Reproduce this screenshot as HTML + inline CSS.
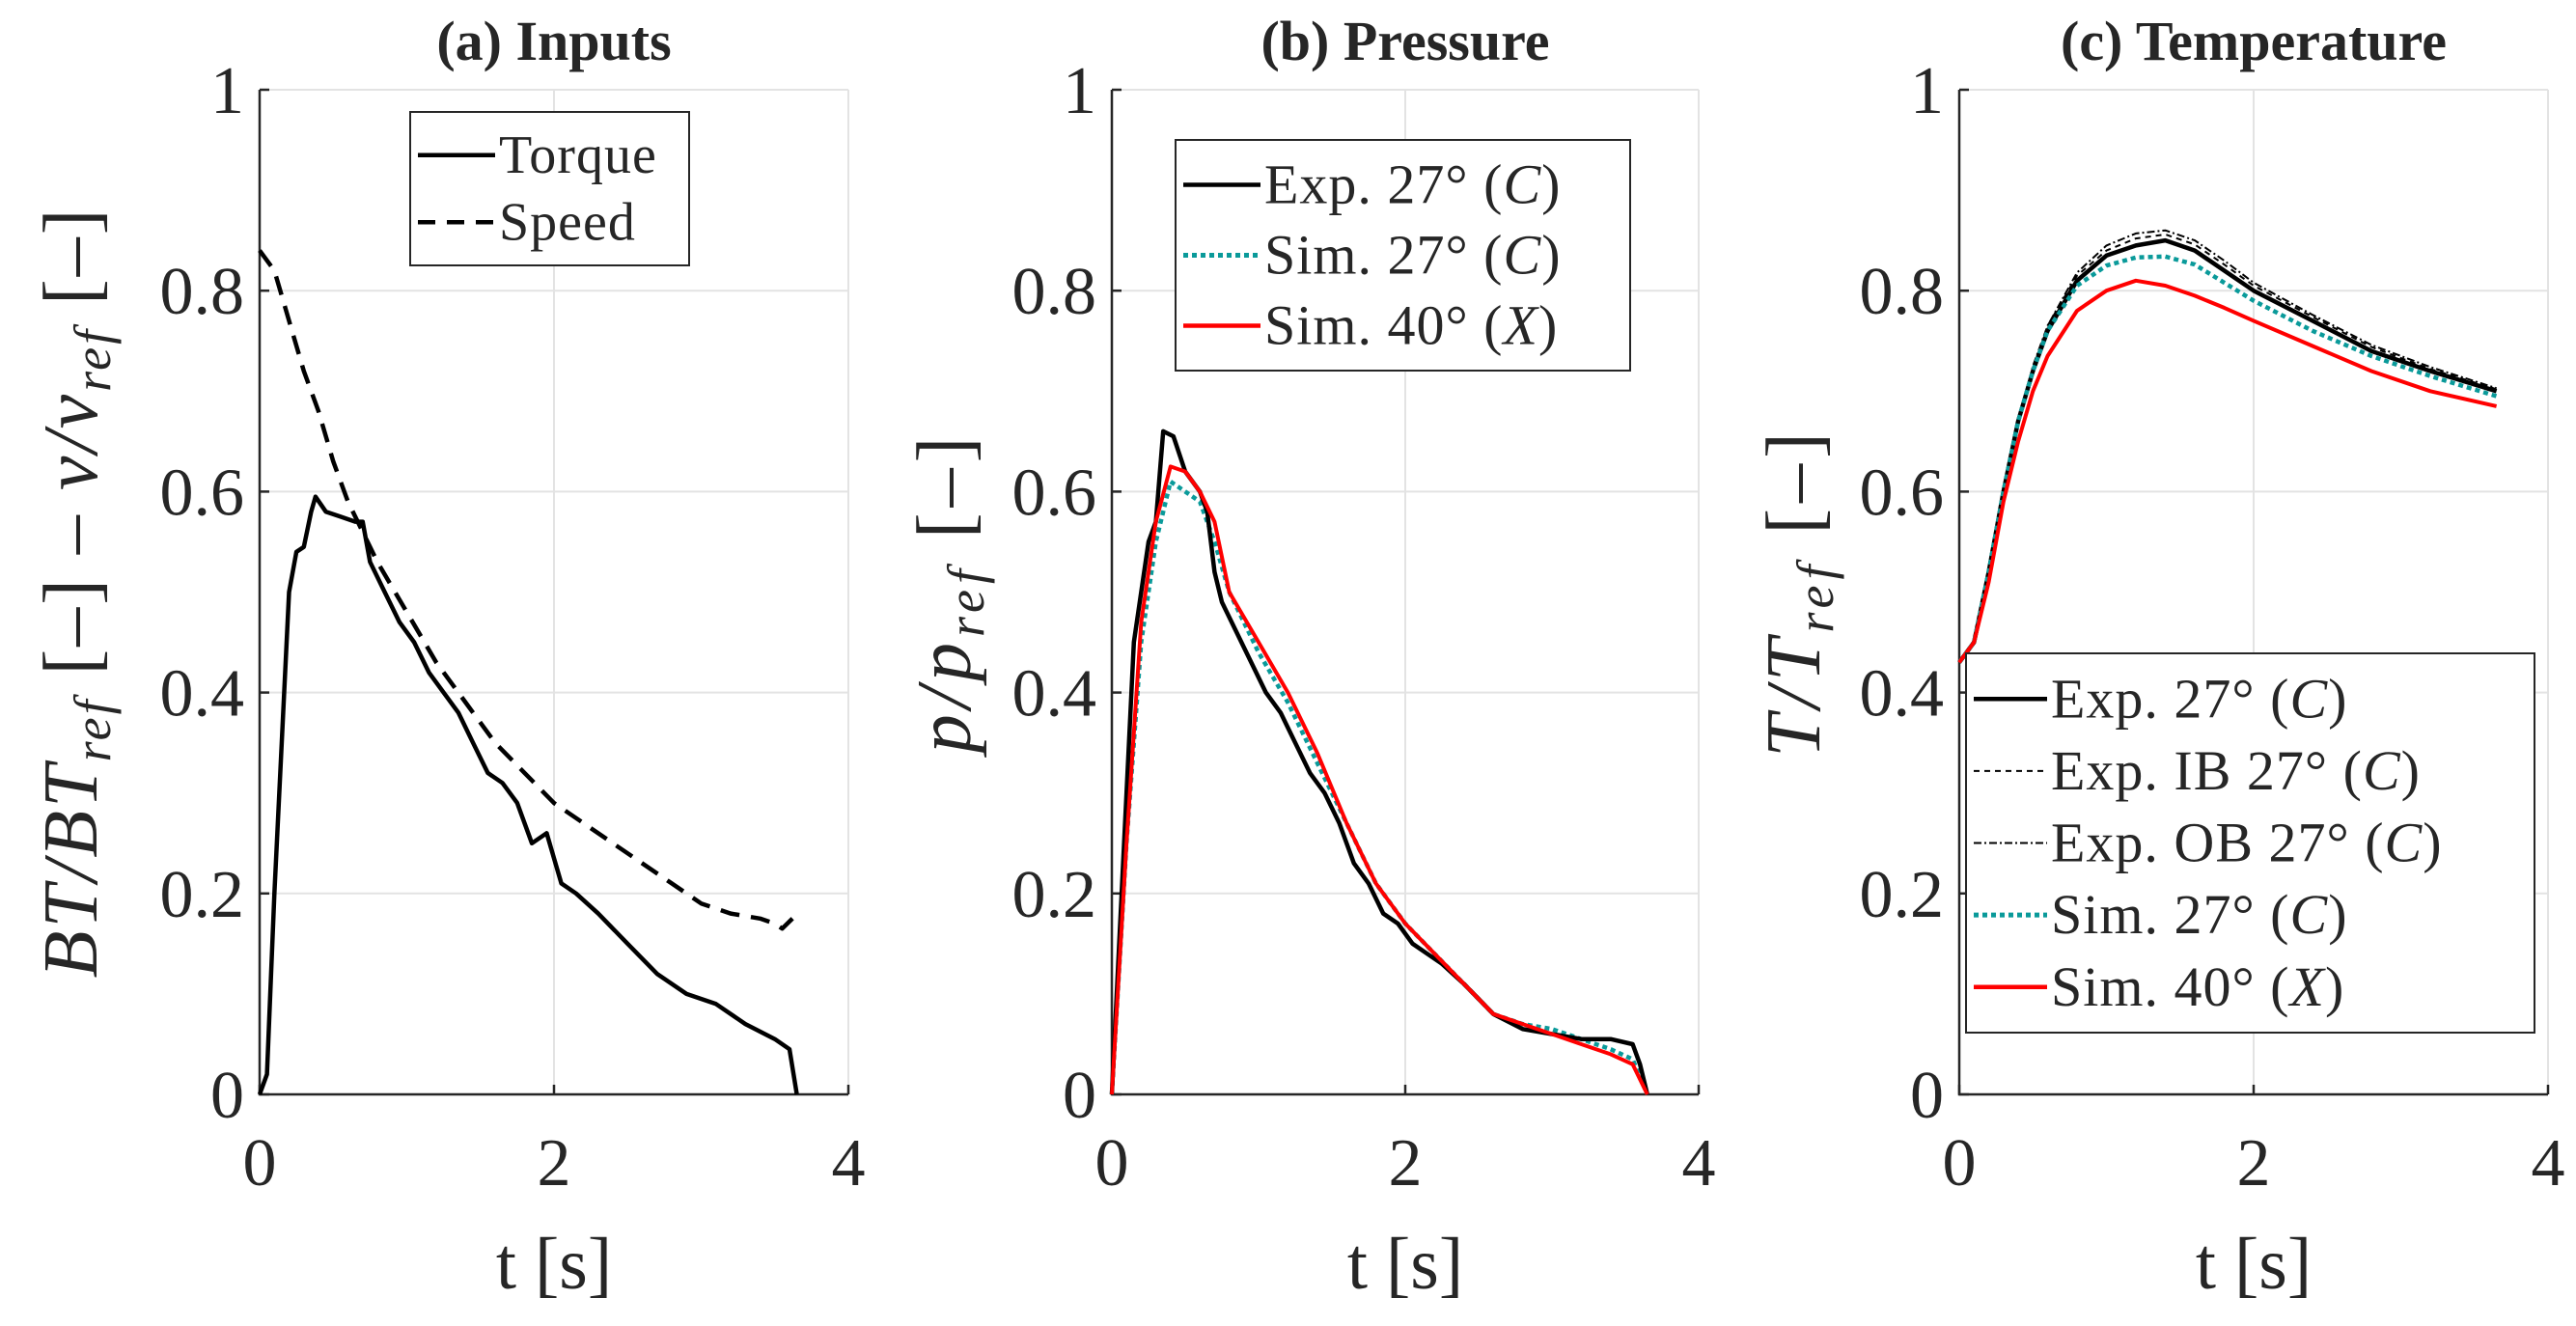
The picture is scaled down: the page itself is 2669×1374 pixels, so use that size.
<!DOCTYPE html>
<html><head><meta charset="utf-8"><style>
html,body{margin:0;padding:0;background:#fff;}
svg{display:block;}
text{font-family:"Liberation Serif",serif;fill:#262626;}
</style></head><body>
<svg id="chart" width="2669" height="1374"></svg>
<script>
const tA=[0,0.05,0.1,0.15,0.2,0.25,0.3,0.35,0.38,0.45,0.55,0.65,0.7,0.75,0.85,0.95,1.05,1.15,1.25,1.35,1.45,1.55,1.65,1.75,1.85,1.95,2.05,2.15,2.3,2.5,2.7,2.9,3.1,3.3,3.5,3.6,3.65];
const torque=[0,0.02,0.2,0.35,0.5,0.54,0.545,0.58,0.595,0.58,0.575,0.57,0.57,0.53,0.5,0.47,0.45,0.42,0.4,0.38,0.35,0.32,0.31,0.29,0.25,0.26,0.21,0.2,0.18,0.15,0.12,0.1,0.09,0.07,0.055,0.045,0];
const tS=[0,0.1,0.2,0.3,0.4,0.5,0.6,0.8,1.0,1.2,1.4,1.6,1.8,2.0,2.2,2.4,2.6,2.8,3.0,3.2,3.4,3.5,3.55,3.62];
const speed=[0.84,0.82,0.77,0.72,0.68,0.63,0.59,0.53,0.48,0.43,0.39,0.35,0.32,0.29,0.27,0.25,0.23,0.21,0.19,0.18,0.175,0.17,0.165,0.175];
const tPE=[0,0.1,0.15,0.2,0.25,0.3,0.35,0.42,0.5,0.6,0.65,0.7,0.75,0.85,0.95,1.05,1.15,1.25,1.35,1.45,1.55,1.65,1.75,1.85,1.95,2.05,2.15,2.25,2.4,2.6,2.8,3.0,3.2,3.4,3.55,3.6,3.65];
const pExp=[0,0.3,0.45,0.5,0.55,0.57,0.66,0.655,0.62,0.6,0.58,0.52,0.49,0.46,0.43,0.4,0.38,0.35,0.32,0.3,0.27,0.23,0.21,0.18,0.17,0.15,0.14,0.13,0.11,0.08,0.065,0.06,0.055,0.055,0.05,0.03,0];
const tPS=[0,0.1,0.2,0.3,0.4,0.5,0.6,0.7,0.8,1.0,1.2,1.4,1.6,1.8,2.0,2.2,2.4,2.6,2.8,3.0,3.2,3.4,3.55,3.65];
const pSim27=[0,0.25,0.45,0.55,0.61,0.6,0.59,0.55,0.5,0.44,0.39,0.33,0.27,0.21,0.17,0.14,0.11,0.08,0.07,0.065,0.055,0.045,0.035,0];
const pSim40=[0,0.25,0.47,0.57,0.625,0.62,0.6,0.57,0.5,0.45,0.4,0.34,0.27,0.21,0.17,0.14,0.11,0.08,0.07,0.06,0.05,0.04,0.03,0];
const tT=[0,0.1,0.2,0.3,0.4,0.5,0.6,0.8,1.0,1.2,1.4,1.6,1.8,2.0,2.4,2.8,3.2,3.65];
const TExp=[0.43,0.45,0.52,0.6,0.67,0.72,0.76,0.81,0.835,0.845,0.85,0.84,0.82,0.8,0.77,0.74,0.72,0.7];
const TIB=[0.43,0.45,0.52,0.6,0.67,0.72,0.765,0.815,0.84,0.852,0.856,0.846,0.826,0.805,0.774,0.744,0.722,0.702];
const TOB=[0.43,0.45,0.52,0.6,0.67,0.725,0.765,0.818,0.845,0.857,0.86,0.85,0.83,0.808,0.776,0.746,0.724,0.703];
const TSim27=[0.43,0.45,0.52,0.6,0.67,0.72,0.76,0.805,0.825,0.833,0.834,0.826,0.808,0.79,0.76,0.735,0.715,0.695];
const TSim40=[0.43,0.45,0.51,0.59,0.65,0.7,0.735,0.78,0.8,0.81,0.805,0.795,0.783,0.77,0.745,0.72,0.7,0.685];
const xTicks=[0,2,4];
const yTicks=[0,0.2,0.4,0.6,0.8,1];
const yTickLabels=["0","0.2","0.4","0.6","0.8","1"];

const NS="http://www.w3.org/2000/svg";
const svg=document.getElementById('chart');
function el(tag,attrs,parent,txt){const e=document.createElementNS(NS,tag);for(const k in attrs)e.setAttribute(k,attrs[k]);if(txt!==undefined)e.textContent=txt;(parent||svg).appendChild(e);return e;}
const TOP=93,BOT=1134;
function makePanel(x0,x1,name,title){
  const g=el('g',{});
  
  
  const sx=v=>x0+(v/4)*(x1-x0), sy=v=>BOT-v*(BOT-TOP);
  xTicks.forEach(v=>{const l=el('line',{x1:sx(v),x2:sx(v),y1:TOP,y2:BOT,stroke:'#e3e3e3','stroke-width':2},g);});
  yTicks.forEach(v=>{const l=el('line',{x1:x0,x2:x1,y1:sy(v),y2:sy(v),stroke:'#e3e3e3','stroke-width':2},g);});
  const ax=el('path',{d:`M${x0},${TOP}V${BOT}H${x1}`,fill:'none',stroke:'#262626','stroke-width':2.5},g);
  
  xTicks.forEach(v=>{el('line',{x1:sx(v),x2:sx(v),y1:BOT,y2:BOT-10,stroke:'#262626','stroke-width':2.5},g);
    const t=el('text',{x:sx(v),y:1228,'text-anchor':'middle','font-size':70},g,String(v));});
  yTicks.forEach((v,i)=>{el('line',{x1:x0,x2:x0+10,y1:sy(v),y2:sy(v),stroke:'#262626','stroke-width':2.5},g);
    const t=el('text',{x:x0-16,y:sy(v)+24,'text-anchor':'end','font-size':70},g,yTickLabels[i]);});
  const xt=el('text',{x:(x0+x1)/2,y:1335,'text-anchor':'middle','font-size':76},g,'t [s]');
  
  const tt=el('text',{x:(x0+x1)/2,y:62,'text-anchor':'middle','font-size':58,'font-weight':'bold','fill':'#000'},g,title);
  
  return {g,sx,sy};
}
function line(p,xs,ys,attrs,name){
  const d=xs.map((x,i)=>(i?'L':'M')+p.sx(x).toFixed(1)+','+p.sy(ys[i]).toFixed(1)).join('');
  const a=Object.assign({d,fill:'none','stroke-linejoin':'round'},attrs);
  const e=el('path',a,p.g);
  
  
}
function ylabel(x,html,name,ls){
  const t=el('text',{transform:`translate(${x},${(TOP+BOT)/2}) rotate(-90)`,'text-anchor':'middle','font-size':80,'font-style':'italic','letter-spacing':ls||0},svg);
  t.innerHTML=html;
  
}
function legend(x,y,w,h,items,fs,lw,name){
  const g=el('g',{});
  
  el('rect',{x,y,width:w,height:h,fill:'#fff',stroke:'#262626','stroke-width':2},g);
  const step=(h-20)/items.length;
  items.forEach((it,i)=>{
    const cy=y+10+step*(i+0.5);
    const e=el('g',{},g);
    
    el('line',Object.assign({x1:x+8,x2:x+8+lw,y1:cy,y2:cy},it.s),e);
    const t=el('text',{x:x+12+lw,y:cy+fs*0.33,'font-size':fs,fill:'#000','letter-spacing':1},e);t.innerHTML=it.t;
  });
}
// panel a
const A=makePanel(269,879,'panel-inputs','(a) Inputs');
line(A,tS,speed,{stroke:'#000','stroke-width':4.5,'stroke-dasharray':'20,12'},'speed-line');
line(A,tA,torque,{stroke:'#000','stroke-width':4.5},'torque-line');
ylabel(100,'BT/BT<tspan font-size="54" dy="14">ref</tspan><tspan dy="-14" font-style="normal"> [–] – </tspan>v/v<tspan font-size="54" dy="14">ref</tspan><tspan dy="-14" font-style="normal"> [–]</tspan>','y-axis-title-inputs',3);
legend(425,116,289,159,[{t:'Torque',s:{stroke:'#000','stroke-width':4.5}},{t:'Speed',s:{stroke:'#000','stroke-width':4.5,'stroke-dasharray':'18,12'}}],56,80,'legend-inputs');
// panel b
const B=makePanel(1152,1760,'panel-pressure','(b) Pressure');
line(B,tPS,pSim27,{stroke:'#0a9a9a','stroke-width':4.5,'stroke-dasharray':'5,4'},'sim27-pressure-line');
line(B,tPE,pExp,{stroke:'#000','stroke-width':4.5},'exp27-pressure-line');
line(B,tPS,pSim40,{stroke:'#ff0000','stroke-width':4},'sim40-pressure-line');
ylabel(1005,'p/p<tspan font-size="54" dy="14">ref</tspan><tspan dy="-14" font-style="normal"> [–]</tspan>','y-axis-title-pressure',6);
const it3=[{t:'Exp.  27° (<tspan font-style="italic">C</tspan>)',s:{stroke:'#000','stroke-width':4.5}},{t:'Sim.  27° (<tspan font-style="italic">C</tspan>)',s:{stroke:'#0a9a9a','stroke-width':5,'stroke-dasharray':'5,4'}},{t:'Sim.  40° (<tspan font-style="italic">X</tspan>)',s:{stroke:'#ff0000','stroke-width':4.5}}];
legend(1218,145,471,239,it3,58,80,'legend-pressure');
// panel c
const C=makePanel(2030,2640,'panel-temperature','(c) Temperature');
line(C,tT,TIB,{stroke:'#000','stroke-width':2,'stroke-dasharray':'6,5'},'expIB-temperature-line');
line(C,tT,TOB,{stroke:'#000','stroke-width':2,'stroke-dasharray':'8,3,2,3'},'expOB-temperature-line');
line(C,tT,TExp,{stroke:'#000','stroke-width':4.5},'exp27-temperature-line');
line(C,tT,TSim27,{stroke:'#0a9a9a','stroke-width':4.5,'stroke-dasharray':'5,4'},'sim27-temperature-line');
line(C,tT,TSim40,{stroke:'#ff0000','stroke-width':4},'sim40-temperature-line');
ylabel(1885,'T/T<tspan font-size="54" dy="14">ref</tspan><tspan dy="-14" font-style="normal"> [–]</tspan>','y-axis-title-temperature',6);
legend(2037,677,589,393,[it3[0],{t:'Exp.  IB 27° (<tspan font-style="italic">C</tspan>)',s:{stroke:'#000','stroke-width':2,'stroke-dasharray':'6,5'}},{t:'Exp.  OB 27° (<tspan font-style="italic">C</tspan>)',s:{stroke:'#000','stroke-width':2,'stroke-dasharray':'8,3,2,3'}},it3[1],it3[2]],58,76,'legend-temperature');
</script>
</body></html>
